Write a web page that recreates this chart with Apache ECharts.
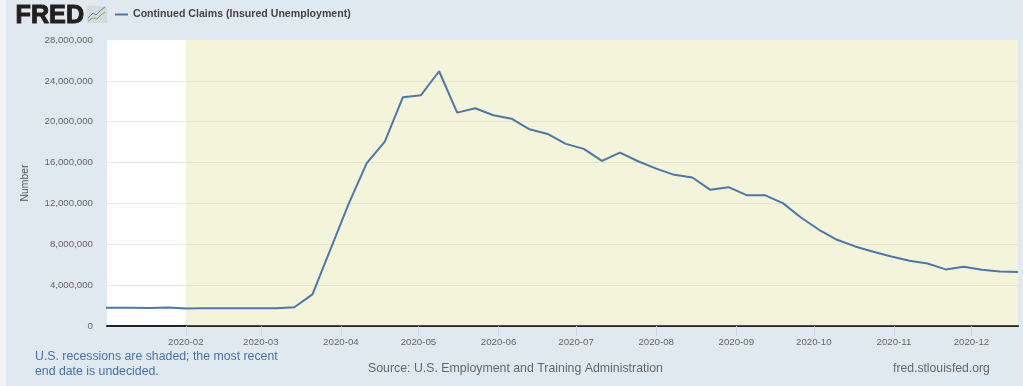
<!DOCTYPE html>
<html>
<head>
<meta charset="utf-8">
<title>Continued Claims (Insured Unemployment)</title>
<style>
    html, body { margin: 0; padding: 0; background: #e1e9f0; }
    #chart { width: 1023px; height: 386px; }
</style>
<script src="https://cdn.jsdelivr.net/npm/echarts@6/dist/echarts.min.js"></script>
</head>
<body>
<div id="chart"></div>
<script>
const seriesName = 'Continued Claims (Insured Unemployment)'
// weeks ending Saturday; the first one falls just left of the plot and gets clipped
const weeks = [
    '2019-12-28', '2020-01-04', '2020-01-11', '2020-01-18', '2020-01-25', '2020-02-01', '2020-02-08',
    '2020-02-15', '2020-02-22', '2020-02-29', '2020-03-07', '2020-03-14', '2020-03-21', '2020-03-28',
    '2020-04-04', '2020-04-11', '2020-04-18', '2020-04-25', '2020-05-02', '2020-05-09', '2020-05-16',
    '2020-05-23', '2020-05-30', '2020-06-06', '2020-06-13', '2020-06-20', '2020-06-27', '2020-07-04',
    '2020-07-11', '2020-07-18', '2020-07-25', '2020-08-01', '2020-08-08', '2020-08-15', '2020-08-22',
    '2020-08-29', '2020-09-05', '2020-09-12', '2020-09-19', '2020-09-26', '2020-10-03', '2020-10-10',
    '2020-10-17', '2020-10-24', '2020-10-31', '2020-11-07', '2020-11-14', '2020-11-21', '2020-11-28',
    '2020-12-05', '2020-12-12', '2020-12-19',
]
const claims = [
    1800000, 1790000, 1780000, 1760000, 1810000, 1710000, 1750000,
    1730000, 1750000, 1740000, 1740000, 1840000, 3090000, 7530000,
    11960000, 15940000, 18050000, 22400000, 22600000, 24940000, 20890000,
    21320000, 20630000, 20300000, 19260000, 18800000, 17830000, 17340000,
    16170000, 16980000, 16130000, 15410000, 14800000, 14540000, 13330000,
    13590000, 12810000, 12810000, 12030000, 10620000, 9420000, 8440000,
    7790000, 7270000, 6810000, 6390000, 6120000, 5540000, 5800000,
    5510000, 5340000, 5280000,
]
const monthTicks = [
    '2020-02-01', '2020-03-01', '2020-04-01', '2020-05-01', '2020-06-01', '2020-07-01',
    '2020-08-01', '2020-09-01', '2020-10-01', '2020-11-01', '2020-12-01',
]
const axisStart = '2020-01-01 12:00:00'
const axisEnd = '2020-12-19'
const recessionStart = '2020-02-01'

const toTime = s => +echarts.time.parse(s)
const blue = '#4a78ad'

const chart = echarts.init(document.getElementById('chart'))
chart.setOption({
    animation: false,
    backgroundColor: '#e1e9f0',
    textStyle: { fontFamily: '"Liberation Sans", Arial, sans-serif' },
    grid: {
        left: 107,
        right: 5,
        top: 40,
        bottom: 60,
        show: true,
        backgroundColor: '#fff',
        borderWidth: 0,
    },
    legend: {
        left: 110,
        top: 4,
        icon: 'rect',
        itemWidth: 13,
        itemHeight: 2,
        itemGap: 5,
        selectedMode: false,
        data: [seriesName],
        textStyle: { fontSize: 10.6, fontWeight: 'bold', color: '#444' },
    },
    xAxis: {
        type: 'time',
        min: toTime(axisStart),
        max: toTime(axisEnd),
        splitLine: { show: false },
        axisLine: { lineStyle: { color: '#222', width: 2 } },
        axisTick: {
            length: 10,
            lineStyle: { color: '#ccd6eb', width: 1 },
            customValues: monthTicks.map(toTime),
        },
        axisLabel: {
            fontSize: 9.7,
            color: '#666',
            margin: 11,
            customValues: monthTicks.map(toTime),
            formatter: '{yyyy}-{MM}',
        },
    },
    yAxis: {
        type: 'value',
        min: 0,
        max: 28000000,
        interval: 4000000,
        name: 'Number',
        nameLocation: 'middle',
        nameGap: 77,
        nameTextStyle: { fontSize: 10.4, color: '#555' },
        axisLine: { show: false },
        axisTick: { show: false },
        axisLabel: {
            fontSize: 9.7,
            color: '#666',
            margin: 14,
            padding: [4, 0, 0, 0],
            formatter: v => v.toLocaleString('en-US'),
        },
        splitLine: { showMinLine: false, showMaxLine: false, lineStyle: { color: '#ebebeb', width: 1 } },
    },
    series: [
        {
            name: seriesName,
            type: 'line',
            showSymbol: false,
            clip: true,
            color: blue,
            lineStyle: { color: blue, width: 2 },
            data: weeks.map((w, i) => [toTime(w), claims[i]]),
            markArea: {
                silent: true,
                itemStyle: { color: 'rgba(211,211,111,0.25)' },
                data: [[{ xAxis: toTime(recessionStart) }, { xAxis: toTime(axisEnd) }]],
            },
        },
    ],
    graphic: [
        // light strip at the page edge
        { type: 'rect', left: 0, top: 0, shape: { width: 6, height: 386 }, style: { fill: '#f4f4f4' } },
        // FRED logo
        {
            type: 'text',
            left: 15,
            top: 3,
            style: { text: 'FRED', fill: '#231f20', stroke: '#231f20', lineWidth: 1, font: 'bold 25.2px "Liberation Sans"' },
        },
        { type: 'rect', left: 87, top: 6, shape: { width: 20, height: 17 }, style: { fill: '#d5dbdc' } },
        {
            type: 'polyline',
            shape: { points: [[88, 18], [93, 13], [96, 15], [101, 10], [105, 7]] },
            style: { stroke: '#5b87b5', fill: null, lineWidth: 1 },
        },
        {
            type: 'polyline',
            shape: { points: [[88, 21], [93, 18], [97, 19], [101, 15], [105, 12]] },
            style: { stroke: '#86a85c', fill: null, lineWidth: 1 },
        },
        // footer
        {
            type: 'text',
            left: 35,
            top: 349,
            style: {
                text: 'U.S. recessions are shaded; the most recent\nend date is undecided.',
                fill: '#4a72a8',
                font: '12.3px "Liberation Sans"',
                lineHeight: 15,
            },
        },
        {
            type: 'text',
            left: 368,
            top: 363,
            style: { text: 'Source: U.S. Employment and Training Administration', fill: '#666', font: '12.33px "Liberation Sans"' },
        },
        {
            type: 'text',
            left: 893,
            top: 363,
            style: { text: 'fred.stlouisfed.org', fill: '#666', font: '12.2px "Liberation Sans"' },
        },
    ],
})
</script>
</body>
</html>
